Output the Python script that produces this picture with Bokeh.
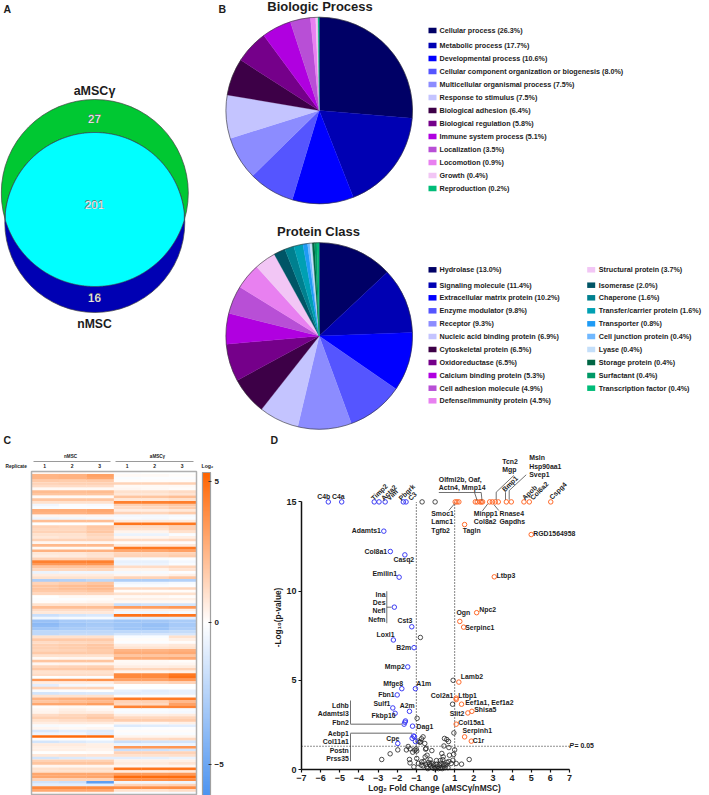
import math
import numpy as np
from bokeh.core.properties import value
from bokeh.embed import file_html
from bokeh.layouts import column, row
from bokeh.models import (ColorBar, ColumnDataSource, FixedTicker,
                          LinearColorMapper, Range1d)
from bokeh.plotting import figure
from bokeh.resources import INLINE

# ---------- data ----------
venn_counts = {"aMSCγ only": 27, "shared": 201, "nMSC only": 16}

bp_names = ["Cellular process", "Metabolic process", "Developmental process",
            "Cellular component organization or biogenesis", "Multicellular organismal process",
            "Response to stimulus", "Biological adhesion", "Biological regulation",
            "Immune system process", "Localization", "Locomotion", "Growth", "Reproduction"]
bp_values = [26.3, 17.7, 10.6, 8.0, 7.5, 7.5, 6.4, 5.8, 5.1, 3.5, 0.9, 0.4, 0.2]
bp_colors = ["#000066", "#0000B3", "#0000FF", "#5555FF", "#8C8CFF", "#C4C4FF", "#3D0047",
             "#75008A", "#B000E0", "#B84FD6", "#E880F0", "#F2C6F5", "#00BC78"]

pc_names = ["Hydrolase", "Signaling molecule", "Extracellular matrix protein", "Enzyme modulator",
            "Receptor", "Nucleic acid binding protein", "Cytoskeletal protein", "Oxidoreductase",
            "Calcium binding protein", "Cell adhesion molecule", "Defense/immunity protein",
            "Structural protein", "Isomerase", "Chaperone", "Transfer/carrier protein",
            "Transporter", "Cell junction protein", "Lyase", "Storage protein", "Surfactant",
            "Transcription factor"]
pc_values = [13.0, 11.4, 10.2, 9.8, 9.3, 6.9, 6.5, 6.5, 5.3, 4.9, 4.5, 3.7, 2.0, 1.6, 1.6,
             0.8, 0.4, 0.4, 0.4, 0.4, 0.4]
pc_colors = ["#000066", "#0000B3", "#0000FF", "#5555FF", "#8C8CFF", "#C4C4FF", "#3D0047",
             "#75008A", "#B000E0", "#B84FD6", "#E880F0", "#F2C6F5", "#005566", "#00808F",
             "#00A0B3", "#1E9BF5", "#70B8FF", "#C4DFFA", "#006644", "#009966", "#00BC78"]

nmsc_1 = [0.3,2.5,2.5,1.8,1.5,1.2,0.2,2.3,2.0,0.2,2.0,1.0,-0.5,-0.2,2.8,2.6,0.3,-0.6,2.2,0.0,1.5,1.3,1.5,1.0,0.8,1.5,0.3,2.4,0.2,2.6,0.8,0.6,1.5,4.3,3.5,2.0,1.3,-0.7,0.6,1.0,
          -2.8,1.5,2.0,2.0,1.8,1.3,0.0,-0.1,0.1,1.0,2.2,1.2,0.8,-1.8,-0.5,-3.5,-3.9,-3.8,-3.2,-2.2,-2.2,1.0,1.8,1.2,1.6,1.6,1.4,1.8,1.0,0.2,2.0,0.3,1.4,1.8,1.0,1.2,0.0,3.5,0.6,-1.0,
          1.5,-0.2,-1.5,1.0,2.5,2.0,3.0,0.1,0.3,0.4,1.2,1.6,1.0,0.6,-0.3,0.3,-1.3,-0.6,5.0,0.1,-1.5,0.7,0.5,0.5,0.0,0.8,-1.5,1.6,2.0,0.3,1.0,1.0,3.0,3.0,1.5,-1.6,-1.0,4.0,3.0,0.3]
nmsc_2 = [0.3,2.6,2.6,1.7,1.6,1.2,0.2,2.2,2.0,0.2,2.0,1.0,-0.2,-0.1,2.8,2.6,0.3,-0.5,2.2,0.0,1.4,1.3,1.5,1.0,0.9,1.5,0.3,2.4,0.2,2.6,0.8,0.7,1.5,4.2,3.5,2.0,1.3,-0.5,0.6,1.0,
          -2.6,1.7,2.2,2.2,1.8,1.3,0.2,-0.1,0.2,1.0,2.2,1.2,0.8,-1.5,-0.3,-3.0,-3.3,-3.2,-2.9,-2.2,-2.0,1.0,1.8,1.3,1.7,1.7,1.5,1.8,1.0,0.3,2.0,0.4,1.5,1.8,1.0,1.2,-0.1,3.5,0.6,-0.4,
          1.4,-0.1,-1.3,1.0,2.7,2.2,3.0,0.2,0.5,0.7,1.4,1.6,1.2,0.7,-0.2,0.2,-0.9,-0.5,5.0,0.1,-1.2,0.7,0.5,0.5,0.0,0.9,-1.2,1.6,2.0,0.3,1.1,1.0,3.0,3.0,1.5,-1.8,-1.0,4.0,3.0,0.4]
nmsc_3 = [0.2,3.2,3.0,1.8,1.6,1.2,0.2,2.3,2.0,0.2,2.0,1.0,-0.3,-0.1,3.0,2.8,0.3,-0.4,2.2,0.0,1.9,1.8,1.9,1.4,1.2,1.5,0.3,2.4,0.2,2.6,1.0,0.9,1.6,4.3,3.6,2.0,1.4,-0.5,0.6,1.0,
          -2.3,2.0,2.4,2.4,2.0,1.3,0.2,0.1,0.3,1.0,2.2,1.2,0.8,-1.3,-0.3,-2.9,-3.1,-3.0,-2.8,-2.2,-2.0,1.0,1.8,1.4,1.9,1.9,1.7,1.8,1.0,0.3,2.0,0.4,1.6,1.9,1.0,1.2,-0.1,3.7,0.6,-0.3,
          1.5,0.0,-1.2,1.0,2.9,2.4,3.3,0.1,0.3,0.6,1.6,1.9,1.3,0.7,-0.1,0.3,-1.1,-1.0,5.0,0.0,-0.9,0.5,0.5,0.4,0.1,0.9,-1.0,1.6,2.0,0.3,1.1,1.0,3.0,3.1,1.5,-5.5,-1.0,4.0,3.0,0.4]
amsc_1 = [-0.1,0.2,-0.2,0.1,1.5,0.2,0.3,1.0,0.8,2.0,0.8,4.3,1.6,1.2,0.6,1.5,-0.4,-0.3,0.7,4.7,1.2,1.0,0.4,-0.7,0.3,1.2,0.1,0.8,4.6,3.0,1.4,1.5,-0.3,-0.8,-0.6,1.2,0.4,-0.4,0.3,1.5,
          -2.8,-0.5,-0.2,1.3,0.1,1.0,0.2,0.5,0.2,-1.8,3.3,0.5,-0.5,4.8,-1.0,-3.3,-3.3,-3.3,-3.3,-2.2,-1.5,-0.2,0.1,-0.1,0.6,0.9,2.5,2.8,2.0,2.8,0.2,0.3,0.6,1.4,0.4,4.0,4.0,3.2,1.3,0.0,
          0.0,-0.8,-1.0,0.1,4.5,1.5,1.3,4.2,-0.2,-0.3,0.6,1.3,1.7,0.4,-1.2,-0.2,0.1,-0.2,0.4,1.2,-1.8,-0.6,3.5,-1.8,1.5,1.0,-1.0,0.5,0.7,0.3,4.7,0.7,3.4,5.0,3.8,-0.5,1.5,3.8,1.0,-0.2]
amsc_2 = [0.0,0.2,-0.1,0.1,1.5,0.2,0.2,1.0,0.8,2.0,0.8,4.3,1.7,1.3,0.6,1.4,-0.4,-0.4,0.7,4.7,1.2,1.0,0.4,-0.7,0.3,1.2,0.1,0.8,4.6,3.0,1.4,1.5,-0.2,-0.8,-0.6,1.2,0.4,-0.3,0.3,1.5,
          -2.8,-0.5,-0.2,1.3,0.1,1.0,0.2,0.5,0.2,-1.6,3.3,0.5,-0.5,4.8,-1.0,-3.2,-3.5,-3.6,-3.4,-2.2,-1.4,-0.2,0.1,-0.1,0.6,0.9,2.5,2.8,2.0,2.8,0.2,0.3,0.6,1.4,0.4,4.0,4.0,3.2,1.3,0.0,
          0.0,-1.0,-0.9,0.1,4.5,1.6,1.3,4.2,-0.2,-0.3,0.6,1.3,1.7,0.3,-1.1,-0.1,0.1,-0.2,0.4,1.2,-1.6,-0.6,3.5,-1.7,1.5,1.0,-0.9,0.5,0.7,0.3,4.7,0.7,3.4,5.0,3.8,-0.5,1.5,3.8,1.0,-0.2]
amsc_3 = [0.0,0.1,-0.1,0.1,1.6,0.2,0.1,1.2,0.9,2.2,1.0,4.4,1.9,1.7,0.8,1.7,-0.3,-0.2,0.7,4.6,1.6,1.6,1.0,-0.2,0.5,1.3,0.1,0.8,4.6,3.2,1.5,1.7,-0.1,-0.4,-0.2,1.4,0.9,-0.1,0.5,1.9,
          -2.6,-0.3,-0.1,1.4,0.1,1.0,0.1,0.5,0.2,-1.5,3.5,0.5,-0.3,4.7,-1.0,-2.9,-3.0,-3.0,-2.8,-2.0,-1.4,1.0,0.5,0.1,0.8,1.0,2.7,2.9,2.0,2.9,0.1,0.3,0.7,1.5,0.5,4.6,4.8,3.5,1.5,0.0,
          0.0,-0.8,-0.8,0.1,4.5,2.4,3.2,4.2,-0.3,-0.4,0.7,1.4,1.7,0.5,-1.0,-0.1,0.1,-0.2,0.4,1.3,-1.5,-0.6,3.6,-1.5,1.5,1.1,-0.7,0.5,0.9,0.3,4.7,0.8,3.5,5.0,3.9,-0.6,1.6,3.9,1.2,-0.3]

blue_x = [-5.6,-4.9,-3.2,-2.95,-2.63,-1.68,-1.54,-2.7,-2.36,-1.6,-1.9,-2.15,-1.24,-2.2,-1.12,-1.45,-1.76,-1.05,-2.0,-2.23,-1.36,-2.11,-1.57,-1.6,-1.64,-1.2,-1.15,-1.1,-1.22,-1.05,-1.97]
blue_y = [15,15,15,15,15,15,15,13.36,12.22,12.03,10.78,9.1,8.0,7.26,6.83,5.75,4.53,4.53,4.18,3.45,3.26,3.15,2.72,2.65,2.54,2.43,1.88,1.84,1.75,1.57,1.46]
orange_x = [1.03,1.12,1.22,2.08,2.18,2.32,2.39,2.46,2.83,2.97,3.12,3.28,3.70,3.96,4.62,4.90,6.02,1.52,5.0,3.07,2.15,1.27,1.47,1.22,1.08,1.08,1.36,1.9,1.69,1.08,1.52,1.87]
orange_y = [15,15,15,15,15,15,15,15,15,15,15,15,15,15,15,15,15,13.73,13.17,10.8,8.79,8.3,7.98,4.9,4.0,3.92,3.66,3.26,3.17,2.54,1.83,1.59]
black_x = [-0.7,-0.02,-0.79,0.92,0.89,-0.96,0.96,-2.81,-2.37,-1.97,-1.52,-1.43,-1.33,-1.19,-1.08,-1.01,-0.98,-0.91,-0.82,-0.73,-0.65,-0.79,-0.56,-0.49,-0.44,-0.54,-0.72,-0.98,-0.89,-1.36,-1.33,-1.13,-0.52,-0.19,0.47,0.59,0.68,0.44,0.70,0.33,0.40,0.73,1.76,1.36,1.08,0.91,0.82,
           -0.35,-0.3,-0.25,-0.2,-0.15,-0.1,-0.05,0.05,0.1,0.15,0.2,0.25,0.3,0.35,0.4,0.45,0.5,0.55,0.6,-0.45,-0.5,-0.6,-0.4,0.65,0.7,-0.65,-0.75,0.0,0.05,-0.28,0.25,0.38,1.0,0.95]
black_y = [15,15,7.4,5.0,3.66,2.87,2.05,0.56,0.88,1.10,1.10,1.29,1.16,0.97,1.08,1.16,1.04,1.59,1.53,1.72,1.83,1.55,1.46,1.18,0.80,0.71,0.43,0.62,0.34,0.56,0.37,0.15,1.14,1.06,1.74,1.68,1.57,1.32,1.23,0.90,0.71,0.80,0.56,0.30,0.34,0.52,0.34,
           0.4,0.3,0.2,0.35,0.1,0.25,0.05,0.3,0.15,0.05,0.25,0.1,0.35,0.05,0.2,0.3,0.1,0.25,0.4,0.15,0.3,0.45,0.05,0.1,0.45,0.2,0.25,0.1,0.5,0.55,0.5,0.55,1.1,0.85]

x_ticks = list(range(-7, 8))
y_ticks = [0, 5, 10, 15]
cbar_ticks = [-5, 0, 5]

# ---------- layout tables (page pixels) ----------
FONT = "Liberation Sans"
INK = "#1c1c1c"

left_labels = [("C4b",316.7,496.3),("C4a",331.5,496.3),("Olfml2b, Oaf,",438.3,478.7),("Actn4, Mmp14",438.3,486.7),
    ("Smoc1",430.7,513),("Lamc1",430.7,521.3),("Tgfb2",430.7,529.7),("Minpp1",473.3,513),("Col8a2",473.3,521.3),
    ("Tagln",462.3,529.7),("Rnase4",499,513),("Gapdhs",499,521.3),("Tcn2",501.7,460.7),("Mgp",501.7,469),
    ("Msln",528.7,457.3),("Hsp90aa1",528.7,465.7),("Svep1",528.7,474),("RGD1564958",532.7,532.7),("Ltbp3",496,575),
    ("Adamts1",351.3,530.3),("Col8a1",364,551),("Casq2",393,559.3),("Emilin1",372,572.7),("Cst3",397,620.3),
    ("Loxl1",376,634.3),("B2m",395.7,646.7),("Mmp2",384.3,666),("Mfge8",382.7,683),("A1m",415.7,683),("Fbn1",377.7,694),
    ("Sulf1",373,702.7),("A2m",399.3,705),("Fkbp10",371,715.3),("Dag1",416,725.7),("Cpe",385.7,737.7),
    ("Lamb2",460.3,675.7),("Col2a1",430.3,695.3),("Ltbp1",457.7,694.7),("Eef1a1, Eef1a2",464.7,702),("Shisa5",473.7,709),
    ("Slit2",449.3,713.3),("Col15a1",457.7,722.3),("Serpinh1",462,730.3),("C1r",472.3,740.3),("Ogn",456,612),
    ("Npc2",478.7,609.3),("Serpinc1",464.7,626.7),("= 0.05",574,745.3)]
right_labels = [("Ina",385,593.7),("Des",385,602.3),("Nefl",385,610.3),("Nefm",385,618.7),("Ldhb",348.3,705),
    ("Adamtsl3",348.3,713.3),("Fbn2",348.3,721.7),("Aebp1",348.3,733.3),("Col11a1",348.3,741.3),("Postn",348.3,749.7),("Prss35",348.3,758)]
rot_labels = [("Timp2",371.7,498.7),("Acta2",381.7,498.7),("Vim",387.3,498.7),("Pbgrk",399.3,498.7),("C3",408.7,498.7),
    ("Bmp1",502.7,490),("Apob",522.7,498.3),("Col6a2",530.7,498.3),("Cspg4",550,497.7)]
leaders = [[(438.3,492),(480.7,492)],[(474,492),(476.7,500)],[(480.7,492),(481.5,500)],[(448.3,510),(454,503.3)],
    [(481.7,510.7),(487.3,503.3)],[(498.3,510),(493.3,504)],[(513.3,475),(495.7,491.7),(495.7,499.3)],
    [(525.7,474.3),(508.7,490),(508.7,499.3)],[(505,491.7),(505,499.3)],[(386.3,590.7),(386.3,622.7)],[(386.3,606.7),(391,606.7)],
    [(350,700),(350,723.7)],[(350,732.7),(350,760.7)]]
gray_leaders = [[(350,723.7),(401.7,723.7)],[(350,732.7),(411.7,732.7)]]


def txt(p, x, y, t, size, align="left", base="middle", angle=0.0, color=INK, style="bold"):
    p.text(x=[x], y=[y], text=[t], text_font=value(FONT), text_font_size=f"{size}px", text_font_style=style,
           text_align=align, text_baseline=base, angle=angle, text_color=color)


def panel(width, height, x_range, y_range, **kw):
    p = figure(width=width, height=height, x_range=x_range, y_range=y_range, output_backend="svg",
               toolbar_location=None, min_border=0, **kw)
    p.outline_line_color = None
    p.grid.visible = False
    p.background_fill_color = None
    p.border_fill_color = None
    return p


# ---------- A: Venn ----------
H_TOP = 430
pa = panel(215, H_TOP, Range1d(0, 215), Range1d(H_TOP, 0))
pa.axis.visible = False
gx, gy, gr = 94.3, 192.5, 93.5
bx, by, br = 94.3, 222.0, 90.0
pa.circle(x=[gx], y=[gy], radius=gr, fill_color="#00C832", line_color="#444444", line_width=0.7)
pa.circle(x=[bx], y=[by], radius=br, fill_color="#0000B3", line_color="#444444", line_width=0.7)
xs = np.linspace(bx - br, bx + br, 361)
dg = np.sqrt(np.clip(gr**2 - (xs - gx)**2, 0, None))
db = np.sqrt(np.clip(br**2 - (xs - bx)**2, 0, None))
top = np.maximum(gy - dg, by - db)
bot = np.minimum(gy + dg, by + db)
keep = top <= bot
pa.patch(np.r_[xs[keep], xs[keep][::-1]], np.r_[top[keep], bot[keep][::-1]], fill_color="#00FFFF",
         line_color="#444444", line_width=0.7)
for label, y, size in [("aMSCγ", 90.7, 12.5), ("nMSC", 323.7, 12.2)]:
    txt(pa, 94, y, label, size, align="center")
for n, y in [(venn_counts["aMSCγ only"], 118), (venn_counts["shared"], 204), (venn_counts["nMSC only"], 297)]:
    txt(pa, 94, y, str(n), 12, align="center", color="#777777")
    txt(pa, 94, y, str(n), 11.5, align="center", color="#f0f0f0", style="normal")
txt(pa, 3, 8, "A", 10.5)


# ---------- B: pies ----------
pb = panel(494, H_TOP, Range1d(215, 709), Range1d(0, H_TOP))
pb.axis.visible = False


def py(v):
    return H_TOP - v


def pie(cx, cy, r, vals, cols):
    total = sum(vals)
    cum = np.r_[0, np.cumsum(vals)] / total * 2 * math.pi
    pb.wedge(x=[cx] * len(vals), y=[py(cy)] * len(vals), radius=r,
             start_angle=list(math.pi / 2 - cum[1:]), end_angle=list(math.pi / 2 - cum[:-1]),
             fill_color=cols, line_color=cols, line_width=0.3)
    pb.circle(x=[cx], y=[py(cy)], radius=r, fill_color=None, line_color="#333333", line_width=0.6)


def legend(names, vals, cols, sx, tx, ys):
    for n, v, c, y in zip(names, vals, cols, ys):
        pb.rect(x=[sx], y=[py(y)], width=8, height=5.5, fill_color=c, line_color=None)
        txt(pb, tx, py(y), f"{n} ({v:.1f}%)", 7.2)


txt(pb, 319.5, py(5.5), "Biologic Process", 13, align="center")
txt(pb, 318, py(230.7), "Protein Class", 13, align="center")
txt(pb, 218, py(8), "B", 10.5)
pie(318.7, 110, 93.3, bp_values, bp_colors)
pie(318.7, 335.5, 93.3, pc_values, pc_colors)
ys1 = [30, 45, 58, 71, 84, 97, 110, 123, 136, 149, 162, 175, 188]
legend(bp_names, bp_values, bp_colors, 432, 439, ys1)
ys2 = [269.3, 284.7, 297.3, 310.3, 323.3, 336, 349, 362, 375, 387.7, 400.3]
legend(pc_names[:11], pc_values[:11], pc_colors[:11], 432, 439, ys2)
legend(pc_names[11:], pc_values[11:], pc_colors[11:], 590.7, 598.3, ys2[:10])


# ---------- C: heat map ----------
H_BOT = 365
W_C = 262
heat_cols = [nmsc_1, nmsc_2, nmsc_3, amsc_1, amsc_2, amsc_3]
n_rows = len(nmsc_1)
cw = 27.5
rh = 323.0 / n_rows
HL, HT = 31.0, 471.0
pc = panel(W_C, H_BOT, Range1d(-HL / cw, (W_C - HL) / cw), Range1d((795 - HT) / rh, (430 - HT) / rh))
pc.axis.visible = False


def hx(v):
    return (v - HL) / cw


def hy(v):
    return (v - HT) / rh


LOW, HIGH = -6.1, 5.3
stops = []
for i in range(256):
    v = LOW + (HIGH - LOW) * i / 255
    if v < 0:
        t = v / LOW
        rgb = (255 + (0x4D - 255) * t, 255 + (0x94 - 255) * t, 255 + (0xF0 - 255) * t)
    else:
        t = v / HIGH
        rgb = (255, 255 + (0x64 - 255) * t, 255 + (0x00 - 255) * t)
    stops.append("#%02x%02x%02x" % tuple(int(round(c)) for c in rgb))
mapper = LinearColorMapper(palette=stops, low=LOW, high=HIGH)
hxs, hys, hvs = [], [], []
for c, col in enumerate(heat_cols):
    for r, val in enumerate(col):
        hxs.append(c + 0.5)
        hys.append(r + 0.5)
        hvs.append(val)
pc.rect(x="x", y="y", width=1.01, height=1.08, source=ColumnDataSource(dict(x=hxs, y=hys, v=hvs)),
        fill_color={"field": "v", "transform": mapper}, line_color=None)
pc.rect(x=[3], y=[n_rows / 2], width=6, height=n_rows, fill_color=None, line_color="#b0b0b0", line_width=1.5)
txt(pc, hx(3), hy(439), "C", 10.5)
txt(pc, hx(70), hy(456), "nMSC", 4.6, align="center")
txt(pc, hx(157), hy(456), "aMSCγ", 4.6, align="center")
pc.line([hx(33), hx(110)], [hy(461), hy(461)], line_color="#808080", line_width=0.8)
pc.line([hx(115), hx(193)], [hy(461), hy(461)], line_color="#808080", line_width=0.8)
txt(pc, hx(5), hy(465.7), "Replicate", 4.8)
for c, lab in enumerate(["1", "2", "3", "1", "2", "3"]):
    txt(pc, c + 0.5 - 0.02, hy(465.7), lab, 5, align="center")
txt(pc, hx(201), hy(465), "Log₂", 5.2)
cbar = ColorBar(color_mapper=mapper, ticker=FixedTicker(ticks=cbar_ticks), location=(202, 0), width=8, height=323,
                padding=0, margin=0, bar_line_color="#a0a0a0", bar_line_width=1.2, background_fill_alpha=0,
                border_line_color=None, major_tick_line_color="#333333", major_tick_in=2, major_tick_out=1,
                major_label_text_font=FONT, major_label_text_font_style="bold", major_label_text_font_size="8px",
                major_label_text_color=INK, label_standoff=3, minor_tick_line_color=None)
pc.add_layout(cbar, "center")


# ---------- D: volcano ----------
W_D = 447
UX, UY = 268 / 14, 17.84
x0 = 301.0


def dx(v):
    return (v - x0) / UX - 7


def dy(v):
    return (769 - v) / UY


pd = panel(W_D, H_BOT, Range1d(dx(262), dx(709)), Range1d(dy(795), dy(430)))
pd.xaxis.fixed_location = 0
pd.yaxis.fixed_location = -7
for ax, ticks, bounds in [(pd.xaxis, x_ticks, (-7, 7)), (pd.yaxis, y_ticks, (0, 15))]:
    ax.ticker = FixedTicker(ticks=ticks)
    ax.bounds = bounds
    ax.axis_line_width = 1.5
    ax.axis_line_color = "#111111"
    ax.major_tick_line_width = 1.2
    ax.major_tick_line_color = "#111111"
    ax.major_tick_in = 0
    ax.major_tick_out = 3
    ax.minor_tick_line_color = None
    ax.major_label_text_font = FONT
    ax.major_label_text_font_style = "bold"
    ax.major_label_text_font_size = "9px"
    ax.major_label_text_color = INK
    ax.major_label_standoff = 2

dash = "1 2"
for v in (-1, 1):
    pd.line([v, v], [0, 15], line_color="#222222", line_width=1.1, line_dash=dash)
pd.line([-7, 7], [1.3, 1.3], line_color="#222222", line_width=1.1, line_dash=dash)

pd.scatter(black_x, black_y, size=4.5, marker="circle", fill_color=None, line_color="#222222", line_width=0.8)
pd.scatter(blue_x, blue_y, size=4.5, marker="circle", fill_color=None, line_color="#3C3CF5", line_width=1)
pd.scatter(orange_x, orange_y, size=4.5, marker="circle", fill_color=None, line_color="#FF6A2A", line_width=1)

for seg in leaders:
    pd.line([dx(a) for a, _ in seg], [dy(b) for _, b in seg], line_color="#333333", line_width=0.7)
for seg in gray_leaders:
    pd.line([dx(a) for a, _ in seg], [dy(b) for _, b in seg], line_color="#999999", line_width=1.5)
for t, a, b in left_labels:
    txt(pd, dx(a), dy(b), t, 6.9)
for t, a, b in right_labels:
    txt(pd, dx(a), dy(b), t, 6.9, align="right")
for t, a, b in rot_labels:
    txt(pd, dx(a), dy(b), t, 6.9, angle=math.pi / 4)
txt(pd, dx(568.7), dy(745.3), "P", 7, style="bold italic")
txt(pd, dx(270), dy(439), "D", 10.5)
txt(pd, dx(434), dy(787), "Log₂ Fold Change (aMSCγ/nMSC)", 8.3, align="center")
txt(pd, dx(277), dy(617), "-Log₁₀(p-value)", 8.3, align="center", angle=math.pi / 2)

root = column(row(pa, pb, spacing=0), row(pc, pd, spacing=0), spacing=0)
open("out.html", "w").write(file_html(root, INLINE))
